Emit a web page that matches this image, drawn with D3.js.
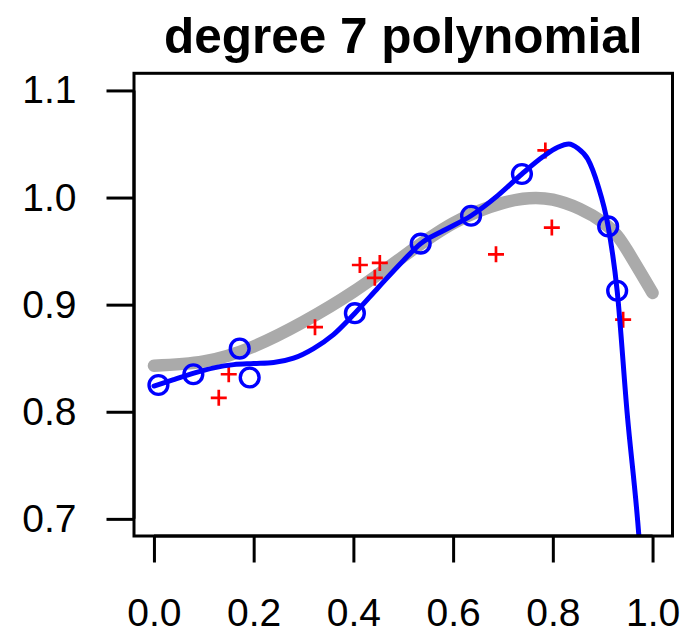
<!DOCTYPE html>
<html>
<head>
<meta charset="utf-8">
<script src="https://cdn.jsdelivr.net/npm/d3@7"></script>
<style>
  html, body { margin: 0; padding: 0; background: #ffffff; }
  svg { display: block; }
  text { font-family: "Liberation Sans", Arial, Helvetica, sans-serif; fill: #000; }
</style>
</head>
<body>
<svg id="chart" width="688" height="634"></svg>
<script>
// ---- data ----
const titleText = "degree 7 polynomial";

// training points (blue open circles)
const trainX = [0.009, 0.079, 0.172, 0.192, 0.403, 0.535, 0.636, 0.738, 0.911, 0.929];
const trainY = [0.825, 0.835, 0.859, 0.832, 0.892, 0.957, 0.983, 1.022, 0.973, 0.913];

// test points (red crosses)
const testX = [0.130, 0.150, 0.323, 0.413, 0.443, 0.453, 0.686, 0.785, 0.798, 0.941];
const testY = [0.813, 0.835, 0.879, 0.937, 0.925, 0.939, 0.947, 1.044, 0.972, 0.886];

// true curve (thick gray)
const trueX = [0.00, 0.10, 0.20, 0.30, 0.40, 0.50, 0.60, 0.70, 0.80, 0.90, 0.95, 1.00];
const trueY = [0.843, 0.847, 0.861, 0.884, 0.912, 0.945, 0.976, 0.995, 0.998, 0.977, 0.950, 0.911];

// degree-7 fit (blue line)
const fitX = [0.000, 0.040, 0.080, 0.120, 0.160, 0.200, 0.240, 0.280, 0.320, 0.360, 0.403, 0.450, 0.500, 0.535, 0.580, 0.636, 0.690, 0.738, 0.780, 0.810, 0.832, 0.850, 0.870, 0.890, 0.911, 0.929, 0.949, 0.9726, 0.985];
const fitY = [0.824, 0.830, 0.836, 0.841, 0.844, 0.845, 0.846, 0.850, 0.859, 0.872, 0.892, 0.916, 0.941, 0.957, 0.969, 0.983, 1.002, 1.022, 1.038, 1.047, 1.050, 1.046, 1.036, 1.012, 0.973, 0.913, 0.799, 0.684, 0.600];

const xTicks = [0.0, 0.2, 0.4, 0.6, 0.8, 1.0];
const yTicks = [0.7, 0.8, 0.9, 1.0, 1.1];
const xLim = [0, 1];
const yLim = [0.7, 1.1];

// ---- layout ----
const box = { left: 134, right: 672.5, top: 73.3, bottom: 536 };
const padX = 0.04 * (xLim[1] - xLim[0]);
const padY = 0.04 * (yLim[1] - yLim[0]);

const svg = d3.select("#chart");
const x = d3.scaleLinear().domain([xLim[0] - padX, xLim[1] + padX]).range([box.left, box.right]);
const y = d3.scaleLinear().domain([yLim[0] - padY, yLim[1] + padY]).range([box.bottom, box.top]);

svg.append("defs").append("clipPath").attr("id", "plotclip")
  .append("rect")
  .attr("x", box.left).attr("y", box.top)
  .attr("width", box.right - box.left).attr("height", box.bottom - box.top);

const plot = svg.append("g").attr("clip-path", "url(#plotclip)");

const trueLine = d3.line().x(d => x(d[0])).y(d => y(d[1])).curve(d3.curveNatural);
const fitLine = d3.line().x(d => x(d[0])).y(d => y(d[1])).curve(d3.curveMonotoneX);

// true curve
plot.append("path")
  .datum(trueX.map((v, i) => [v, trueY[i]]))
  .attr("d", trueLine)
  .attr("fill", "none")
  .attr("stroke", "#aaaaaa")
  .attr("stroke-width", 12.5)
  .attr("stroke-linecap", "round")
  .attr("stroke-linejoin", "round");

// test points: red crosses
const cs = 8;
const crosses = plot.append("g").attr("stroke", "#ff0000").attr("stroke-width", 2.7);
testX.forEach((v, i) => {
  const cx = x(v), cy = y(testY[i]);
  crosses.append("path").attr("d", `M${cx - cs},${cy}H${cx + cs}M${cx},${cy - cs}V${cy + cs}`);
});

// fitted curve
plot.append("path")
  .datum(fitX.map((v, i) => [v, fitY[i]]))
  .attr("d", fitLine)
  .attr("fill", "none")
  .attr("stroke", "#0000ff")
  .attr("stroke-width", 5)
  .attr("stroke-linecap", "round")
  .attr("stroke-linejoin", "round");

// training points: open blue circles
plot.append("g").selectAll("circle")
  .data(trainX.map((v, i) => [v, trainY[i]]))
  .join("circle")
  .attr("cx", d => x(d[0]))
  .attr("cy", d => y(d[1]))
  .attr("r", 9.4)
  .attr("fill", "none")
  .attr("stroke", "#0000ff")
  .attr("stroke-width", 3.4);

// box
svg.append("rect")
  .attr("x", box.left).attr("y", box.top)
  .attr("width", box.right - box.left).attr("height", box.bottom - box.top)
  .attr("fill", "none").attr("stroke", "#000").attr("stroke-width", 3);

// axes
const xAxis = d3.axisBottom(x).tickValues(xTicks).tickFormat(d3.format(".1f"))
  .tickSize(26.5).tickPadding(37);
const gx = svg.append("g").attr("transform", `translate(0,${box.bottom})`).call(xAxis);
gx.select(".domain").attr("d", `M${x(xTicks[0])},0H${x(xTicks[xTicks.length - 1])}`)
  .attr("stroke", "#000").attr("stroke-width", 3);
gx.selectAll(".tick line").attr("stroke", "#000").attr("stroke-width", 3);
gx.selectAll(".tick text").attr("font-size", "39px").attr("dy", "0").attr("y", 90)
  .attr("font-family", "Liberation Sans, Arial, sans-serif");

const yAxis = d3.axisLeft(y).tickValues(yTicks).tickFormat(d3.format(".1f"))
  .tickSize(27.5).tickPadding(30);
const gy = svg.append("g").attr("transform", `translate(${box.left},0)`).call(yAxis);
gy.select(".domain").attr("d", `M0,${y(yTicks[0])}V${y(yTicks[yTicks.length - 1])}`)
  .attr("stroke", "#000").attr("stroke-width", 3);
gy.selectAll(".tick line").attr("stroke", "#000").attr("stroke-width", 3);
gy.selectAll(".tick text").attr("font-size", "39px")
  .attr("font-family", "Liberation Sans, Arial, sans-serif");

// title
svg.append("text")
  .attr("x", (box.left + box.right) / 2)
  .attr("y", 53)
  .attr("text-anchor", "middle")
  .attr("font-size", "49.5px")
  .attr("font-weight", "bold")
  .text(titleText);
</script>
</body>
</html>
